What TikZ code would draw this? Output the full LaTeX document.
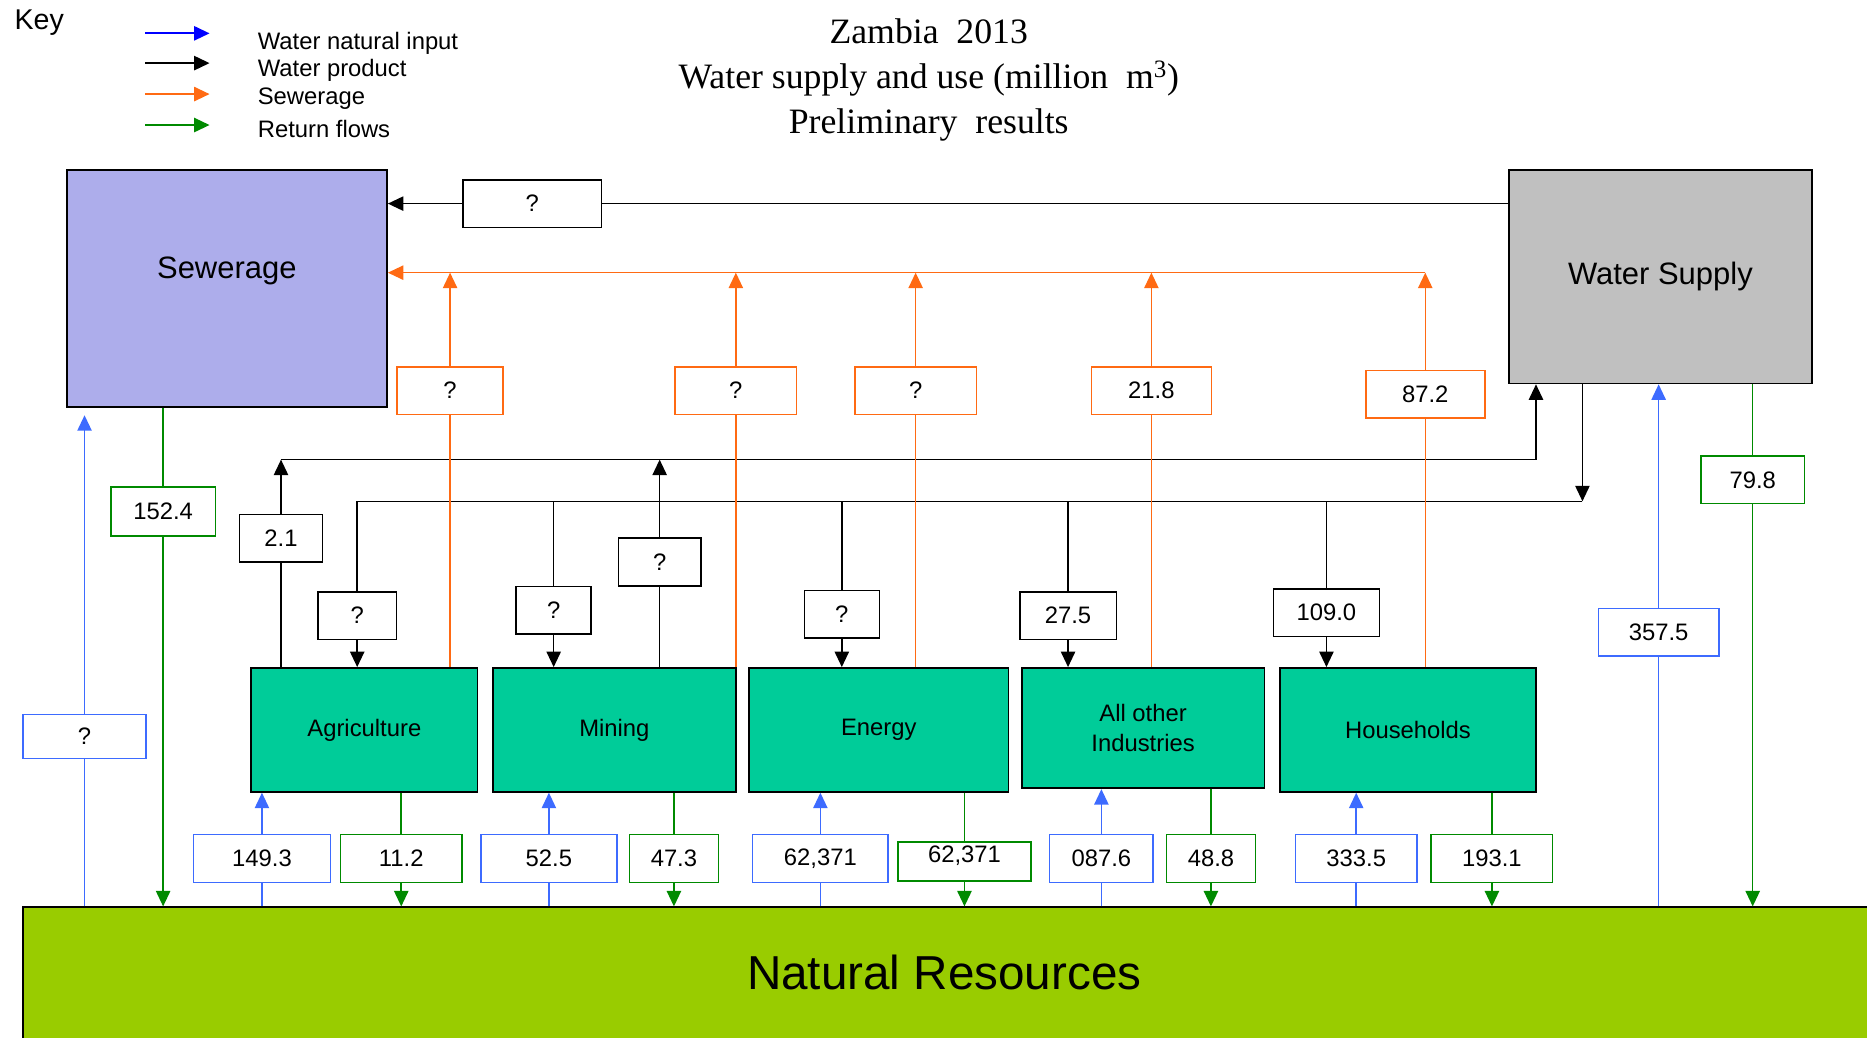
\documentclass[tikz,border=0pt]{standalone}
\usepackage{fontspec}
\setmainfont{Liberation Sans}
\newfontfamily\titlefont{Liberation Serif}
\usetikzlibrary{arrows.meta}

\definecolor{sewfill}{HTML}{ADADEB}
\definecolor{supfill}{HTML}{C0C0C0}
\definecolor{secfill}{HTML}{00CC99}
\definecolor{natfill}{HTML}{99CC00}
\definecolor{cBlue}{HTML}{3D6BFF}
\definecolor{cOrange}{HTML}{FF6A13}
\definecolor{cGreen}{HTML}{008A00}

\tikzset{
    arrowed/.style={-{Triangle[length=13pt,width=12pt]}},
    box/.style={draw, line width=1.5pt, inner sep=0pt},
    mainbox/.style={box, font=\fontsize{26}{30}\selectfont},
    sector/.style={box, fill=secfill, minimum height=104pt, align=center,
        font=\fontsize{20}{25}\selectfont},
    val/.style={draw, fill=white, line width=1.3pt, minimum height=40pt,
        inner sep=0pt, font=\fontsize{20}{24}\selectfont},
    valk/.style={val, draw=black},
    valo/.style={val, draw=cOrange},
    valg/.style={val, draw=cGreen},
    valb/.style={val, draw=cBlue},
    prodflow/.style={draw=black, line width=1.3pt},
    sewflow/.style={draw=cOrange, line width=1.3pt},
    retflow/.style={draw=cGreen, line width=1.3pt},
    inflow/.style={draw=cBlue, line width=1.3pt},
}

\begin{document}
\begin{tikzpicture}[x=1pt, y=-1pt]
    \clip (0,0) rectangle (1568,871);

    % key
    \node[font=\fontsize{24}{28}\selectfont] (key) at (33,19) {Key};
    \foreach \col/\ya/\yb/\txt [count=\i] in {blue/28/36/Water natural input,
        black/53/59/Water product, cOrange/79/83/Sewerage, cGreen/105/108/Return flows} {
        \coordinate (ks\i) at (122,\ya);
        \coordinate (ke\i) at (176,\ya);
        \draw[draw=\col, line width=1.5pt, arrowed] (ks\i) -- (ke\i);
        \node[anchor=west, font=\fontsize{20}{24}\selectfont] (kt\i) at (213,\yb) {\txt};
    }

    % title
    \node[align=center, font=\titlefont\fontsize{30}{38}\selectfont] (title) at (780,67)
        {Zambia\ \ 2013\\Water supply and use (million\ \ m\textsuperscript{3})\\Preliminary\ \ results};

    % main boxes
    \node[mainbox, fill=sewfill, minimum width=269pt, minimum height=199pt,
        label={[font=\fontsize{26}{30}\selectfont, yshift=15pt]center:Sewerage}] (sew) at (190.5,242.5) {};
    \node[mainbox, fill=supfill, minimum width=255pt, minimum height=179pt] (sup) at (1394.5,232.5) {Water Supply};
    \node[mainbox, fill=natfill, minimum width=1560pt, minimum height=120pt,
        label={[font=\fontsize{40}{44}\selectfont, xshift=-6pt, yshift=5pt]center:Natural Resources}] (nat) at (799,822) {};

    % sectors
    \node[sector, minimum width=190pt] (agri) at (306,613) {Agriculture};
    \node[sector, minimum width=204pt] (mine) at (516,613) {Mining};
    \node[sector, minimum width=218pt] (energy) at (738,613) {Energy};
    \node[sector, minimum width=204pt, minimum height=101pt] (other) at (960,611.5) {All other\\Industries};
    \node[sector, minimum width=215pt] (house) at (1182.5,613) {Households};

    % water product values
    \node[valk, minimum width=116pt] (pq) at (447,171) {?};
    \node[valk, minimum width=70pt] (pa) at (236,452) {2.1};
    \node[valk, minimum width=69pt] (pm) at (554,472) {?};
    \node[valk, minimum width=66pt] (ua) at (300,517) {?};
    \node[valk, minimum width=63pt] (um) at (465,512.5) {?};
    \node[valk, minimum width=63pt] (ue) at (707,516) {?};
    \node[valk, minimum width=81pt] (uo) at (897,517) {27.5};
    \node[valk, minimum width=89pt] (uh) at (1114,514.5) {109.0};

    % sewerage values
    \node[valo, minimum width=89pt] (wa) at (378,328) {?};
    \node[valo, minimum width=102pt] (wm) at (618,328) {?};
    \node[valo, minimum width=102pt] (we) at (769,328) {?};
    \node[valo, minimum width=101pt] (wo) at (967,328) {21.8};
    \node[valo, minimum width=100pt] (wh) at (1197,331) {87.2};

    % return flow values
    \node[valg, minimum width=88pt, minimum height=41pt] (rs) at (137,429.5) {152.4};
    \node[valg, minimum width=102pt] (ra) at (337,721) {11.2};
    \node[valg, minimum width=75pt] (rm) at (566,721) {47.3};
    \node[valg, minimum width=112pt, minimum height=33pt] (re) at (810,723.5) {\raisebox{5pt}[\height][\depth]{62,371}};
    \node[valg, minimum width=75pt] (ro) at (1017,721) {48.8};
    \node[valg, minimum width=102pt] (rh) at (1253,721) {193.1};
    \node[valg, minimum width=87pt] (rw) at (1472,403) {79.8};

    % natural input values
    \node[valb, minimum width=103pt, minimum height=37pt] (ns) at (71,618.5) {?};
    \node[valb, minimum width=115pt] (na) at (220,721) {149.3};
    \node[valb, minimum width=114pt] (nm) at (461,721) {52.5};
    \node[valb, minimum width=114pt] (ne) at (689,721) {62,371};
    \node[valb, minimum width=87pt] (no) at (925,721) {087.6};
    \node[valb, minimum width=102pt] (nh) at (1139,721) {333.5};
    \node[valb, minimum width=101pt] (nw) at (1393,531) {357.5};

    \coordinate (toSup) at (1290,386);
    \coordinate (fromSup) at (1329,421);
    \coordinate (sewbus) at (1197,229);

    % water product
    \draw[prodflow] (sup.west |- pq) -- (pq.east);
    \draw[prodflow, arrowed] (pq.west) -- (pq -| sew.east);
    \foreach \p/\s in {pa/agri, pm/mine} {
        \draw[prodflow] (\s.north -| \p) -- (\p.south);
        \draw[prodflow, arrowed] (\p.north) -- (\p |- toSup);
    }
    \draw[prodflow] (pa |- toSup) -- (toSup);
    \draw[prodflow, arrowed] (toSup) -- (toSup |- sup.south);
    \draw[prodflow, arrowed] (fromSup |- sup.south) -- (fromSup);
    \draw[prodflow] (fromSup) -- (ua |- fromSup);
    \foreach \u/\s in {ua/agri, um/mine, ue/energy, uo/other, uh/house} {
        \draw[prodflow] (\u |- fromSup) -- (\u.north);
        \draw[prodflow, arrowed] (\u.south) -- (\u |- \s.north);
    }

    % sewerage
    \draw[sewflow, arrowed] (sewbus) -- (sewbus -| sew.east);
    \foreach \w/\s in {wa/agri, wm/mine, we/energy, wo/other, wh/house} {
        \draw[sewflow] (\s.north -| \w) -- (\w.south);
        \draw[sewflow, arrowed] (\w.north) -- (\w |- sewbus);
    }

    % return flows
    \foreach \r/\s in {rs/sew, ra/agri, rm/mine, re/energy, ro/other, rh/house, rw/sup} {
        \draw[retflow] (\s.south -| \r) -- (\r.north);
        \draw[retflow, arrowed] (\r.south) -- (\r |- nat.north);
    }

    % natural input
    \foreach \n/\s in {na/agri, nm/mine, ne/energy, no/other, nh/house, nw/sup} {
        \draw[inflow] (nat.north -| \n) -- (\n.south);
        \draw[inflow, arrowed] (\n.north) -- (\n |- \s.south);
    }
    \draw[inflow] (nat.north -| ns) -- (ns.south);
    \draw[inflow, arrowed, shorten >=6pt] (ns.north) -- (ns |- sew.south);
\end{tikzpicture}
\end{document}
